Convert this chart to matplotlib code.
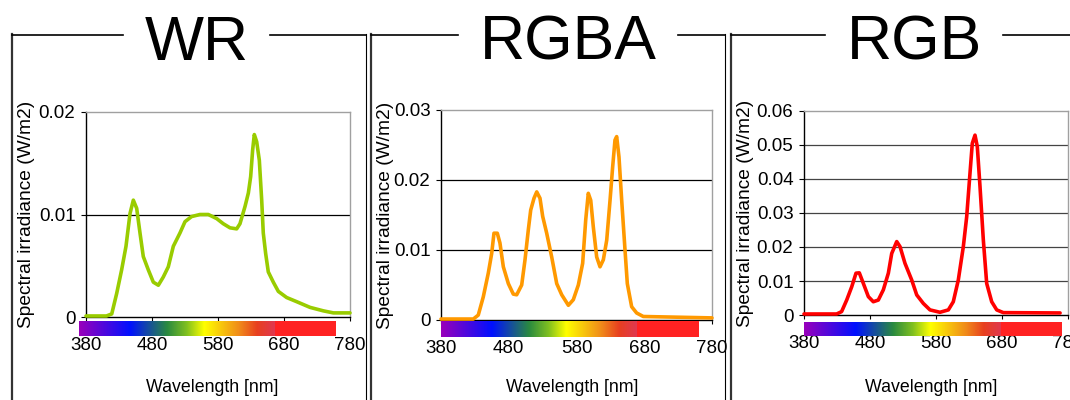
import matplotlib
matplotlib.use('Agg')
import matplotlib.pyplot as plt
from matplotlib.colors import LinearSegmentedColormap
from matplotlib.lines import Line2D
import numpy as np

plt.rcParams['font.family'] = ['Liberation Sans', 'DejaVu Sans']

# spectra (nm, W/m2)
wr_nm = [380, 411, 419, 426.5, 434, 440.6, 446.7, 451.7, 456.8, 461.8, 466.8, 474.4,
         482, 489.6, 497.1, 504.7, 512.3, 522.4, 530, 540, 552.7, 565.3, 578, 588,
         598.2, 608.3, 613.3, 621, 626, 629.5, 632.5, 635, 638.6, 642.6, 646.2, 648.6,
         652.2, 656.2, 663.8, 671.4, 684, 699, 719.4, 739.6, 754.8, 780]
wr_val = [0.0001, 0.0001, 0.0003, 0.0023, 0.0046, 0.0069, 0.0101, 0.0114, 0.0106, 0.0082,
          0.0059, 0.0046, 0.0034, 0.0031, 0.0039, 0.0049, 0.0069, 0.0082, 0.0093, 0.0098,
          0.0100, 0.0100, 0.0096, 0.0091, 0.0087, 0.0086, 0.0091, 0.0108, 0.0121, 0.0137,
          0.0163, 0.0178, 0.0171, 0.0153, 0.0114, 0.0082, 0.0062, 0.0044, 0.0034, 0.0025,
          0.0019, 0.0015, 0.00094, 0.0006, 0.0004, 0.0004]

rgba_nm = [380, 427.7, 435, 442.4, 449.8, 454.8, 458.2, 463.1, 467, 472, 479.4, 486.7,
           491.7, 499.1, 504, 508.9, 512.4, 517.3, 521.3, 526.1, 530.1, 536, 543.4, 550.8,
           558.2, 568, 575.3, 582.7, 589.1, 593.6, 597.4, 601, 604.8, 609.8, 614.7, 619.6,
           624.6, 629.5, 633.4, 636.8, 639.3, 642.7, 646.7, 651.6, 655, 661.4, 668.8,
           678.6, 780]
rgba_val = [0.00014, 0.00014, 0.0007, 0.0033, 0.0067, 0.0095, 0.0124, 0.0124, 0.0110,
            0.0076, 0.0052, 0.0037, 0.0036, 0.0050, 0.0086, 0.0129, 0.0157, 0.0174, 0.0183,
            0.0174, 0.0148, 0.0124, 0.0090, 0.0052, 0.0036, 0.0021, 0.0029, 0.0050, 0.0081,
            0.0143, 0.0181, 0.0171, 0.0133, 0.0090, 0.0076, 0.0086, 0.0114, 0.0171, 0.0219,
            0.0257, 0.0262, 0.0233, 0.0171, 0.0100, 0.0052, 0.0019, 0.0010, 0.0005, 0.0003]

rgb_nm = [380, 429.5, 437, 444.7, 452.3, 458.8, 463.8, 469.9, 477.5, 485, 492.6, 500.2,
          507.8, 512.9, 520.5, 525.5, 533, 543.2, 550.8, 560.8, 570.9, 586, 598.7, 606.2,
          613.8, 621.4, 626.5, 631.5, 635, 639.1, 642.6, 646.7, 651.7, 656.8, 664.4, 672,
          682, 768]
rgb_val = [0.0003, 0.0003, 0.0010, 0.0044, 0.0083, 0.0123, 0.0124, 0.0093, 0.0054, 0.0039,
           0.0044, 0.0074, 0.0123, 0.0181, 0.0216, 0.0201, 0.0152, 0.0103, 0.0059, 0.0034,
           0.0015, 0.0008, 0.0015, 0.0039, 0.0103, 0.0201, 0.0289, 0.0417, 0.0505, 0.0529,
           0.0495, 0.0377, 0.0221, 0.0093, 0.0039, 0.0015, 0.0007, 0.0006]

titles = ['WR', 'RGBA', 'RGB']
series_nm = [wr_nm, rgba_nm, rgb_nm]
series_val = [wr_val, rgba_val, rgb_val]
line_colors = ['#99CC00', '#FF9900', '#FF0000']
y_max = [0.02, 0.03, 0.06]
x_ticks = [380, 480, 580, 680, 780]

W, H = 1070, 400
fig = plt.figure(figsize=(W / 100, H / 100), dpi=100)


def fx(px):
    return px / W


def fy(py):
    return 1 - py / H


# layout in pixels: axes (left, top, right, bottom)
axes_px = [(86, 112, 350, 317), (441, 110, 712, 320), (804, 111, 1068, 315)]
# panel frame: left, right, title gap start, title gap end
frame_px = [(12, 366, 123, 270), (371, 725, 458, 678), (731, 1090, 825, 1003)]
title_x = [197, 568, 914]
ylab_x = [27, 385, 745]
xlab_x = [212, 572, 931]
# colour bar under the axis: start nm, red start nm, end nm, y0 (axes frac), height
bar_spec = [(369.4, 666, 758.8, -0.093, 0.0735),
            (380, 669, 760.8, -0.081, 0.076),
            (380, 678.5, 771, -0.104, 0.072)]
grid_cols = ['black', 'black', '#444444']

spec_cmap = LinearSegmentedColormap.from_list('spec', [
    (0.0, '#9900BB'), (0.26, '#0010FF'), (0.45, '#2A8A40'), (0.55, '#80C020'),
    (0.64, '#FFFF00'), (0.82, '#F08A1A'), (0.91, '#E84020'), (1.0, '#E03850')])

for i in range(3):
    l, t, r, b = axes_px[i]
    ax = fig.add_axes([fx(l), fy(b), fx(r - l), (b - t) / H])
    ax.plot(series_nm[i], series_val[i], color=line_colors[i], lw=2.6,
            solid_joinstyle='round', solid_capstyle='round', clip_on=False, zorder=3)
    ax.set_xlim(380, 780)
    ax.set_ylim(0, y_max[i])
    yt = np.round(np.arange(0, y_max[i] + 1e-9, 0.01), 2)
    ax.set_yticks(yt)
    ax.set_yticklabels(['0'] + ['%.2f' % v for v in yt[1:]], fontsize=13.5)
    ax.set_xticks(x_ticks)
    ax.set_xticklabels([str(v) for v in x_ticks], fontsize=13.5)
    ax.tick_params(axis='y', length=3.6, width=0.8, pad=4)
    ax.tick_params(axis='x', length=3, width=0.8, pad=11.5)
    for v in yt[1:-1]:
        ax.axhline(v, color=grid_cols[i], lw=0.9, zorder=1)
    ax.spines['top'].set_color('#A0A0A0')
    ax.spines['right'].set_color('#A0A0A0')
    ax.spines['left'].set_color('black')
    ax.spines['bottom'].set_color('black')
    for s in ax.spines.values():
        s.set_linewidth(1.0)

    x0, xr, x1, by0, bh = bar_spec[i]
    bax = ax.inset_axes([x0, by0, x1 - x0, bh], transform=ax.get_xaxis_transform())
    grad = np.linspace(0, 1, 256)[None, :]
    bax.imshow(grad, aspect='auto', cmap=spec_cmap, extent=[x0, xr, 0, 1])
    bax.axvspan(xr, x1, color='#FF2222', lw=0)
    bax.set_xlim(x0, x1)
    bax.set_ylim(0, 1)
    bax.axis('off')

    fig.text(fx(ylab_x[i]), fy((t + b) / 2 + 0), 'Spectral irradiance (W/m2)',
             rotation=90, ha='center', va='center', fontsize=13.8)
    fig.text(fx(xlab_x[i]), fy(388), 'Wavelength [nm]', ha='center', va='center',
             fontsize=12.8)
    fig.text(fx(title_x[i]), fy(60), titles[i], ha='center', va='baseline',
             fontsize=45)

    fl, fr, g0, g1 = frame_px[i]
    fig.add_artist(Line2D([fx(fl), fx(fl)], [fy(34), fy(400)], color='#333333', lw=1.6))
    fig.add_artist(Line2D([fx(fr), fx(fr)], [fy(34), fy(400)], color='black', lw=0.8))
    fig.add_artist(Line2D([fx(fl), fx(g0)], [fy(34.5), fy(34.5)], color='black', lw=1.2))
    fig.add_artist(Line2D([fx(g1), fx(fr)], [fy(34.5), fy(34.5)], color='black', lw=1.2))

fig.savefig('out.png', dpi=100)
